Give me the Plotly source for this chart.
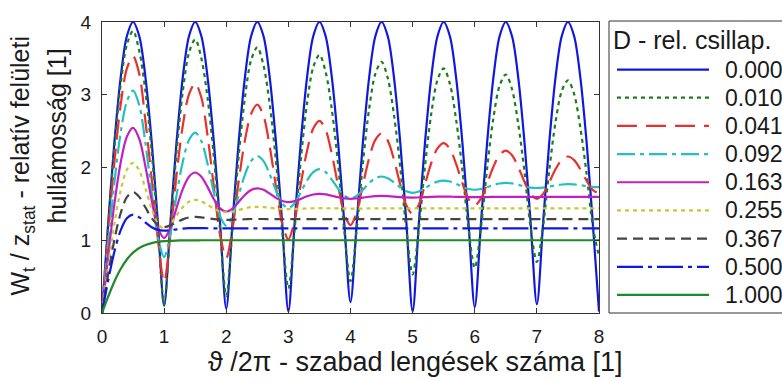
import plotly.graph_objects as go

# ---------------- data ----------------
X = [0.0, 0.1, 0.2, 0.3, 0.4, 0.5, 0.6, 0.7, 0.8, 0.9,
     1.0, 1.1, 1.2, 1.3, 1.4, 1.5, 1.6, 1.7, 1.8, 1.9,
     2.0, 2.1, 2.2, 2.3, 2.4, 2.5, 2.6, 2.7, 2.8, 2.9,
     3.0, 3.1, 3.2, 3.3, 3.4, 3.5, 3.6, 3.7, 3.8, 3.9,
     4.0, 4.1, 4.2, 4.3, 4.4, 4.5, 4.6, 4.7, 4.8, 4.9,
     5.0, 5.1, 5.2, 5.3, 5.4, 5.5, 5.6, 5.7, 5.8, 5.9,
     6.0, 6.1, 6.2, 6.3, 6.4, 6.5, 6.6, 6.7, 6.8, 6.9,
     7.0, 7.1, 7.2, 7.3, 7.4, 7.5, 7.6, 7.7, 7.8, 7.9,
     8.0]

D_LABELS = ["0.000", "0.010", "0.041", "0.092", "0.163", "0.255", "0.367", "0.500", "1.000"]

W_D0000 = [0.000, 1.236, 2.351, 3.236, 3.804, 4.000, 3.804, 3.236, 2.351, 1.236,
           0.100, 1.236, 2.351, 3.236, 3.804, 4.000, 3.804, 3.236, 2.351, 1.236,
           0.060, 1.236, 2.351, 3.236, 3.804, 4.000, 3.804, 3.236, 2.351, 1.236,
           0.020, 1.236, 2.351, 3.236, 3.804, 4.000, 3.804, 3.236, 2.351, 1.236,
           0.150, 1.236, 2.351, 3.236, 3.804, 4.000, 3.804, 3.236, 2.351, 1.236,
           0.020, 1.236, 2.351, 3.236, 3.804, 4.000, 3.804, 3.236, 2.351, 1.236,
           0.080, 1.236, 2.351, 3.236, 3.804, 4.000, 3.804, 3.236, 2.351, 1.236,
           0.120, 1.236, 2.351, 3.236, 3.804, 4.000, 3.804, 3.236, 2.351, 1.236,
           0.020]

W_D0010 = [0.000, 1.198, 2.279, 3.137, 3.687, 3.877, 3.600, 3.040, 2.210, 1.165,
           0.120, 1.170, 2.214, 3.044, 3.577, 3.761, 3.498, 2.951, 2.148, 1.144,
           0.233, 1.153, 2.157, 2.959, 3.474, 3.652, 3.402, 2.868, 2.094, 1.134,
           0.338, 1.147, 2.107, 2.880, 3.378, 3.549, 3.312, 2.792, 2.048, 1.133,
           0.438, 1.150, 2.064, 2.807, 3.287, 3.453, 3.228, 2.722, 2.007, 1.140,
           0.531, 1.160, 2.026, 2.740, 3.203, 3.363, 3.150, 2.658, 1.972, 1.153,
           0.619, 1.176, 1.995, 2.679, 3.124, 3.278, 3.076, 2.598, 1.942, 1.171,
           0.701, 1.196, 1.968, 2.622, 3.050, 3.198, 3.007, 2.544, 1.917, 1.192,
           0.778]

W_D0041 = [0.000, 1.092, 2.076, 2.857, 3.358, 3.531, 3.285, 2.629, 1.838, 1.009,
           0.427, 1.072, 1.899, 2.572, 3.006, 3.155, 2.958, 2.432, 1.736, 1.078,
           0.757, 1.157, 1.808, 2.370, 2.738, 2.865, 2.708, 2.288, 1.737, 1.234,
           1.012, 1.274, 1.771, 2.228, 2.535, 2.641, 2.516, 2.183, 1.750, 1.368,
           1.209, 1.388, 1.763, 2.129, 2.380, 2.468, 2.369, 2.106, 1.768, 1.478,
           1.361, 1.488, 1.770, 2.059, 2.262, 2.334, 2.256, 2.049, 1.787, 1.566,
           1.479, 1.571, 1.784, 2.010, 2.173, 2.231, 2.169, 2.007, 1.804, 1.635,
           1.570, 1.638, 1.799, 1.975, 2.104, 2.151, 2.102, 1.976, 1.819, 1.690,
           1.640]

W_D0092 = [0.000, 0.946, 1.799, 2.475, 2.907, 3.056, 2.854, 2.330, 1.657, 1.047,
           0.770, 1.088, 1.617, 2.077, 2.377, 2.480, 2.360, 2.049, 1.658, 1.330,
           1.201, 1.336, 1.621, 1.900, 2.091, 2.158, 2.087, 1.907, 1.686, 1.508,
           1.442, 1.508, 1.660, 1.821, 1.937, 1.977, 1.937, 1.834, 1.710, 1.613,
           1.577, 1.611, 1.694, 1.785, 1.852, 1.876, 1.853, 1.795, 1.726, 1.672,
           1.652, 1.671, 1.716, 1.768, 1.806, 1.820, 1.807, 1.774, 1.735, 1.705,
           1.694, 1.705, 1.730, 1.759, 1.780, 1.788, 1.781, 1.762, 1.741, 1.724,
           1.718, 1.724, 1.738, 1.754, 1.766, 1.771, 1.767, 1.756, 1.744, 1.735,
           1.731]

W_D0163 = [0.000, 0.792, 1.504, 2.066, 2.423, 2.544, 2.392, 2.010, 1.549, 1.173,
           1.030, 1.171, 1.446, 1.703, 1.874, 1.931, 1.873, 1.730, 1.565, 1.439,
           1.395, 1.436, 1.527, 1.623, 1.691, 1.714, 1.693, 1.641, 1.583, 1.539,
           1.524, 1.537, 1.569, 1.604, 1.629, 1.637, 1.630, 1.611, 1.591, 1.576,
           1.570, 1.575, 1.586, 1.598, 1.607, 1.610, 1.607, 1.601, 1.593, 1.588,
           1.586, 1.589, 1.592, 1.596, 1.599, 1.600, 1.599, 1.597, 1.595, 1.593,
           1.592, 1.593, 1.594, 1.596, 1.597, 1.597, 1.597, 1.596, 1.596, 1.595,
           1.594, 1.595, 1.595, 1.596, 1.596, 1.596, 1.596, 1.596, 1.595, 1.595,
           1.595]

W_D0255 = [0.000, 0.649, 1.230, 1.684, 1.969, 2.064, 1.958, 1.708, 1.431, 1.230,
           1.163, 1.221, 1.340, 1.455, 1.531, 1.556, 1.535, 1.486, 1.433, 1.397,
           1.385, 1.394, 1.416, 1.439, 1.455, 1.460, 1.455, 1.446, 1.436, 1.429,
           1.427, 1.429, 1.433, 1.437, 1.440, 1.441, 1.440, 1.439, 1.437, 1.436,
           1.435, 1.436, 1.436, 1.437, 1.437, 1.437, 1.437, 1.437, 1.437, 1.437,
           1.437, 1.437, 1.437, 1.437, 1.437, 1.437, 1.437, 1.437, 1.437, 1.437,
           1.437, 1.437, 1.437, 1.437, 1.437, 1.437, 1.437, 1.437, 1.437, 1.437,
           1.437, 1.437, 1.437, 1.437, 1.437, 1.437, 1.437, 1.437, 1.437, 1.437,
           1.437]

W_D0367 = [0.000, 0.533, 1.007, 1.371, 1.592, 1.663, 1.596, 1.450, 1.304, 1.210,
           1.181, 1.203, 1.246, 1.287, 1.313, 1.321, 1.315, 1.303, 1.291, 1.283,
           1.281, 1.282, 1.286, 1.289, 1.292, 1.292, 1.292, 1.291, 1.290, 1.289,
           1.289, 1.290, 1.290, 1.290, 1.290, 1.290, 1.290, 1.290, 1.290, 1.290,
           1.290, 1.290, 1.290, 1.290, 1.290, 1.290, 1.290, 1.290, 1.290, 1.290,
           1.290, 1.290, 1.290, 1.290, 1.290, 1.290, 1.290, 1.290, 1.290, 1.290,
           1.290, 1.290, 1.290, 1.290, 1.290, 1.290, 1.290, 1.290, 1.290, 1.290,
           1.290, 1.290, 1.290, 1.290, 1.290, 1.290, 1.290, 1.290, 1.290, 1.290,
           1.290]

W_D0500 = [0.000, 0.451, 0.845, 1.136, 1.303, 1.353, 1.315, 1.243, 1.179, 1.142,
           1.132, 1.138, 1.150, 1.161, 1.167, 1.168, 1.167, 1.165, 1.163, 1.163,
           1.162, 1.163, 1.163, 1.163, 1.163, 1.163, 1.163, 1.163, 1.163, 1.163,
           1.163, 1.163, 1.163, 1.163, 1.163, 1.163, 1.163, 1.163, 1.163, 1.163,
           1.163, 1.163, 1.163, 1.163, 1.163, 1.163, 1.163, 1.163, 1.163, 1.163,
           1.163, 1.163, 1.163, 1.163, 1.163, 1.163, 1.163, 1.163, 1.163, 1.163,
           1.163, 1.163, 1.163, 1.163, 1.163, 1.163, 1.163, 1.163, 1.163, 1.163,
           1.163, 1.163, 1.163, 1.163, 1.163, 1.163, 1.163, 1.163, 1.163, 1.163,
           1.163]

W_D1000 = [0.000, 0.227, 0.434, 0.605, 0.736, 0.830, 0.894, 0.935, 0.961, 0.977,
           0.987, 0.992, 0.996, 0.998, 0.999, 0.999, 1.000, 1.000, 1.000, 1.000,
           1.000, 1.000, 1.000, 1.000, 1.000, 1.000, 1.000, 1.000, 1.000, 1.000,
           1.000, 1.000, 1.000, 1.000, 1.000, 1.000, 1.000, 1.000, 1.000, 1.000,
           1.000, 1.000, 1.000, 1.000, 1.000, 1.000, 1.000, 1.000, 1.000, 1.000,
           1.000, 1.000, 1.000, 1.000, 1.000, 1.000, 1.000, 1.000, 1.000, 1.000,
           1.000, 1.000, 1.000, 1.000, 1.000, 1.000, 1.000, 1.000, 1.000, 1.000,
           1.000, 1.000, 1.000, 1.000, 1.000, 1.000, 1.000, 1.000, 1.000, 1.000,
           1.000]

X_TICKS = [0, 1, 2, 3, 4, 5, 6, 7, 8]
Y_TICKS = [0, 1, 2, 3, 4]

SERIES = [W_D0000, W_D0010, W_D0041, W_D0092, W_D0163, W_D0255, W_D0367, W_D0500, W_D1000]

# ---------------- styles ----------------
COLORS = ["#1018e0", "#1a7f1a", "#e8302c", "#22c0c0", "#c020c0",
          "#c8c832", "#444444", "#1018e0", "#1f8a28"]
DASHES = ["solid", "4px,4px", "20px,9px", "18px,5px,4px,5px", "solid",
          "4px,4px", "10px,6px", "26px,5px,4px,5px", "solid"]
LW = 2.2

W, H = 782, 381
PL, PR, PT, PB = 102, 599, 13, 313  # plot area in pixels


def px(xp):
    return (xp - PL) / (PR - PL)


def py(yp):
    return (PB - yp) / (PB - PT)


FONT = "Liberation Sans, Arial, sans-serif"
TXT = "#1a1a1a"

fig = go.Figure()
for lab, ys, col, dash in zip(D_LABELS, SERIES, COLORS, DASHES):
    fig.add_trace(go.Scatter(
        x=X, y=ys, mode="lines", name=lab, showlegend=False,
        line=dict(color=col, width=LW, dash=dash, shape="spline", smoothing=0.9),
        hoverinfo="skip"))

axis_common = dict(
    showline=True, linecolor="#333333", linewidth=1, mirror="ticks",
    ticks="inside", ticklen=5, tickwidth=1, tickcolor="#333333",
    showgrid=False, zeroline=False,
    tickfont=dict(family=FONT, size=19, color=TXT),
)

fig.update_layout(
    width=W, height=H,
    margin=dict(l=PL, r=W - PR, t=PT, b=H - PB, pad=0),
    paper_bgcolor="white", plot_bgcolor="white",
    xaxis=dict(range=[0, 8], tickvals=X_TICKS, ticklabelstandoff=6, **axis_common),
    yaxis=dict(range=[0, 4], tickvals=Y_TICKS, ticklabelstandoff=6, **axis_common),
    showlegend=False,
)

annotations = []
shapes = []

# axis titles
annotations.append(dict(
    text="\u03d1 /2\u03c0 - szabad lengések száma [1]",
    xref="paper", yref="paper", x=px(415.5), y=py(363),
    xanchor="center", yanchor="middle", showarrow=False,
    font=dict(family=FONT, size=27, color=TXT)))
annotations.append(dict(
    text="W<sub>t</sub> / z<sub>stat</sub> - relatív felületi",
    xref="paper", yref="paper", x=px(22), y=py(161), textangle=-90,
    xanchor="center", yanchor="middle", showarrow=False,
    font=dict(family=FONT, size=25, color=TXT)))
annotations.append(dict(
    text="hullámosság [1]",
    xref="paper", yref="paper", x=px(57), y=py(131), textangle=-90,
    xanchor="center", yanchor="middle", showarrow=False,
    font=dict(family=FONT, size=25, color=TXT)))

# legend box (extends past the right edge, as in the reference)
shapes.append(dict(type="rect", xref="paper", yref="paper",
                   x0=px(609), x1=px(800), y0=py(313), y1=py(12),
                   line=dict(color="#333333", width=1), fillcolor="white",
                   layer="above"))
annotations.append(dict(
    text="D - rel. csillap.", xref="paper", yref="paper",
    x=px(611), y=py(32), xanchor="left", yanchor="middle", showarrow=False,
    font=dict(family=FONT, size=25, color=TXT)))
for i, (lab, col, dash) in enumerate(zip(D_LABELS, COLORS, DASHES)):
    yy = 62 + 29.05 * i
    shapes.append(dict(type="line", xref="paper", yref="paper",
                       x0=px(617), x1=px(709), y0=py(yy), y1=py(yy),
                       line=dict(color=col, width=LW, dash=dash), layer="above"))
    annotations.append(dict(
        text=lab, xref="paper", yref="paper", x=px(723), y=py(yy),
        xanchor="left", yanchor="middle", showarrow=False,
        font=dict(family=FONT, size=23, color=TXT)))

fig.update_layout(annotations=annotations, shapes=shapes)
fig.write_html("out.html")
